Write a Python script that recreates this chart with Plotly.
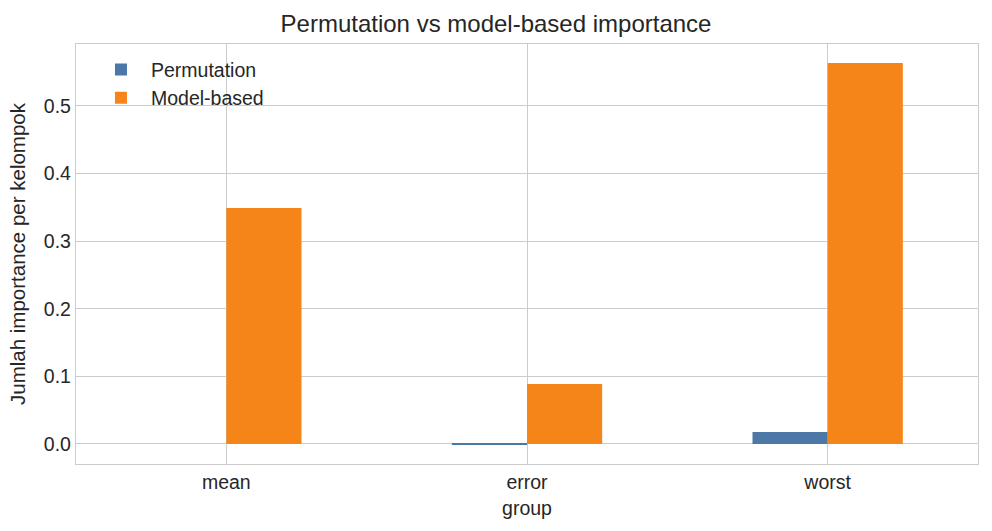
import plotly.graph_objects as go

groups = ["mean", "error", "worst"]
permutation = [0.0, -0.0012, 0.0178]
model_based = [0.349, 0.0888, 0.5636]

blue = "#4c78a8"
orange = "#f58518"
grid = "#cccccc"
txt = "#262626"
fs = 19.5

fig = go.Figure()
fig.add_trace(go.Bar(x=groups, y=permutation, name="Permutation", marker=dict(color=blue, line=dict(width=0))))
fig.add_trace(go.Bar(x=groups, y=model_based, name="Model-based", marker=dict(color=orange, line=dict(width=0))))

fig.update_layout(
    width=992, height=531,
    margin=dict(l=76, r=14, t=44, b=67),
    paper_bgcolor="white", plot_bgcolor="white",
    barmode="group", bargap=0.5, bargroupgap=0,
    font=dict(family="Liberation Sans, Arial, sans-serif", size=fs, color=txt),
    title=dict(text="Permutation vs model-based importance", x=0.5, xanchor="center",
               y=1 - 24 / 531, yanchor="middle", font=dict(size=24, color=txt)),
    legend=dict(x=0.0166, y=0.985, xanchor="left", yanchor="top", bgcolor="rgba(0,0,0,0)",
                font=dict(size=fs, color=txt), itemwidth=50),
    showlegend=True,
)
fig.update_xaxes(
    type="category", range=[-0.5, 2.5],
    showgrid=True, gridcolor=grid, gridwidth=1.3,
    showline=True, linecolor=grid, linewidth=1.3, mirror=True,
    ticks="", tickfont=dict(size=fs, color=txt),
    title=dict(text="group", font=dict(size=fs, color=txt), standoff=9),
)
fig.update_yaxes(
    range=[-0.0296, 0.5917], tickvals=[0, 0.1, 0.2, 0.3, 0.4, 0.5], tickformat=".1f",
    showgrid=True, gridcolor=grid, gridwidth=1.3, zeroline=False,
    showline=True, linecolor=grid, linewidth=1.3, mirror=True,
    ticks="", tickfont=dict(size=fs, color=txt),
    title=dict(text="Jumlah importance per kelompok", font=dict(size=20.5, color=txt), standoff=12),
)

fig.write_html("out.html", config={"displayModeBar": False},
               post_script="document.body.style.margin='0';document.body.style.padding='0';")
